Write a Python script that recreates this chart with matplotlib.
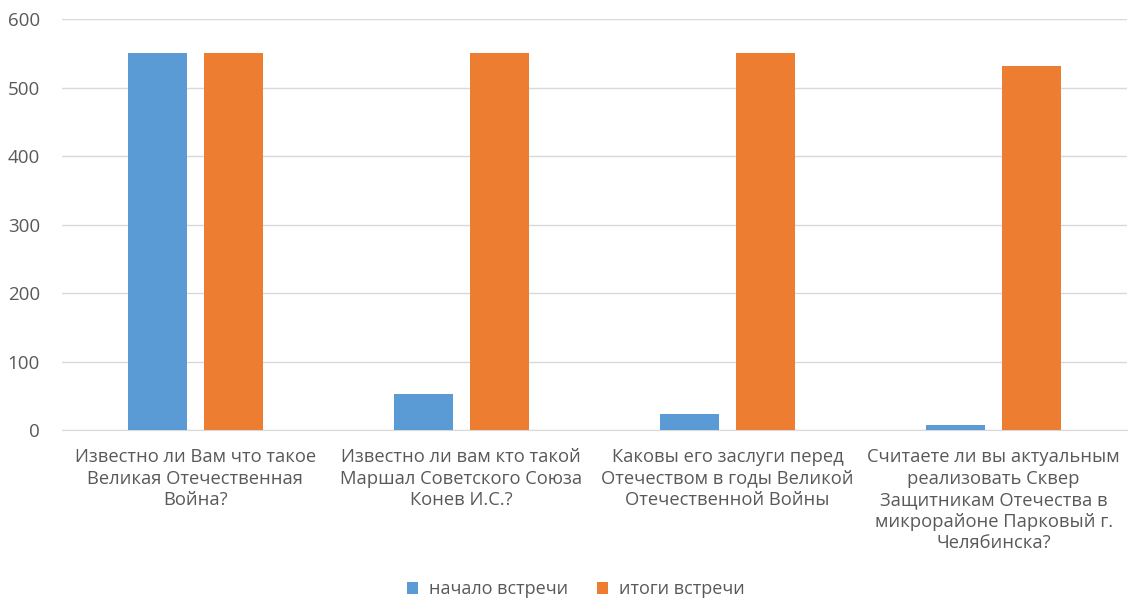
import numpy as np
from matplotlib import pyplot as plt

categories = [
    "Известно ли Вам что такое\nВеликая Отечественная\nВойна?",
    "Известно ли вам кто такой\nМаршал Советского Союза\nКонев И.С.?",
    "Каковы его заслуги перед\nОтечеством в годы Великой\nОтечественной Войны",
    "Считаете ли вы актуальным\nреализовать Сквер\nЗащитникам Отечества в\nмикрорайоне Парковый г.\nЧелябинска?",
]
start_values = [550, 53, 23, 7]
result_values = [550, 550, 550, 532]
series_names = ["начало встречи", "итоги встречи"]

plt.rcParams["font.family"] = ["Open Sans", "DejaVu Sans"]
text_color = "#595959"

fig = plt.figure(figsize=(11.29, 6), dpi=100)
ax = fig.add_axes([0.055, 0.2833, 0.943, 0.685])

x = np.arange(len(categories))
width = 0.222
offset = 0.143
ax.bar(x - offset, start_values, width, color="#5b9bd5", label=series_names[0], zorder=3)
ax.bar(x + offset, result_values, width, color="#ed7d31", label=series_names[1], zorder=3)

ax.set_xlim(-0.5, len(categories) - 0.5)
ax.set_ylim(0, 600)
ax.set_yticks(range(0, 601, 100))
ax.yaxis.grid(True, color="#d9d9d9", linewidth=1, zorder=0)
ax.set_xticks(x)
ax.set_xticklabels(categories, fontsize=13.2, color=text_color, linespacing=1.25, va="top")
ax.tick_params(axis="y", labelsize=13.5, colors=text_color, length=0, pad=16)
ax.tick_params(axis="x", length=0, pad=13)
for side in ["top", "right", "left"]:
    ax.spines[side].set_visible(False)
ax.spines["bottom"].set_color("#d9d9d9")

fig.legend(
    loc="center",
    bbox_to_anchor=(0.51, 0.018),
    ncol=2,
    frameon=False,
    fontsize=13,
    labelcolor=text_color,
    handlelength=0.6,
    handleheight=0.6,
    handletextpad=0.6,
    columnspacing=1.6,
)

fig.savefig("out.png", dpi=100)
